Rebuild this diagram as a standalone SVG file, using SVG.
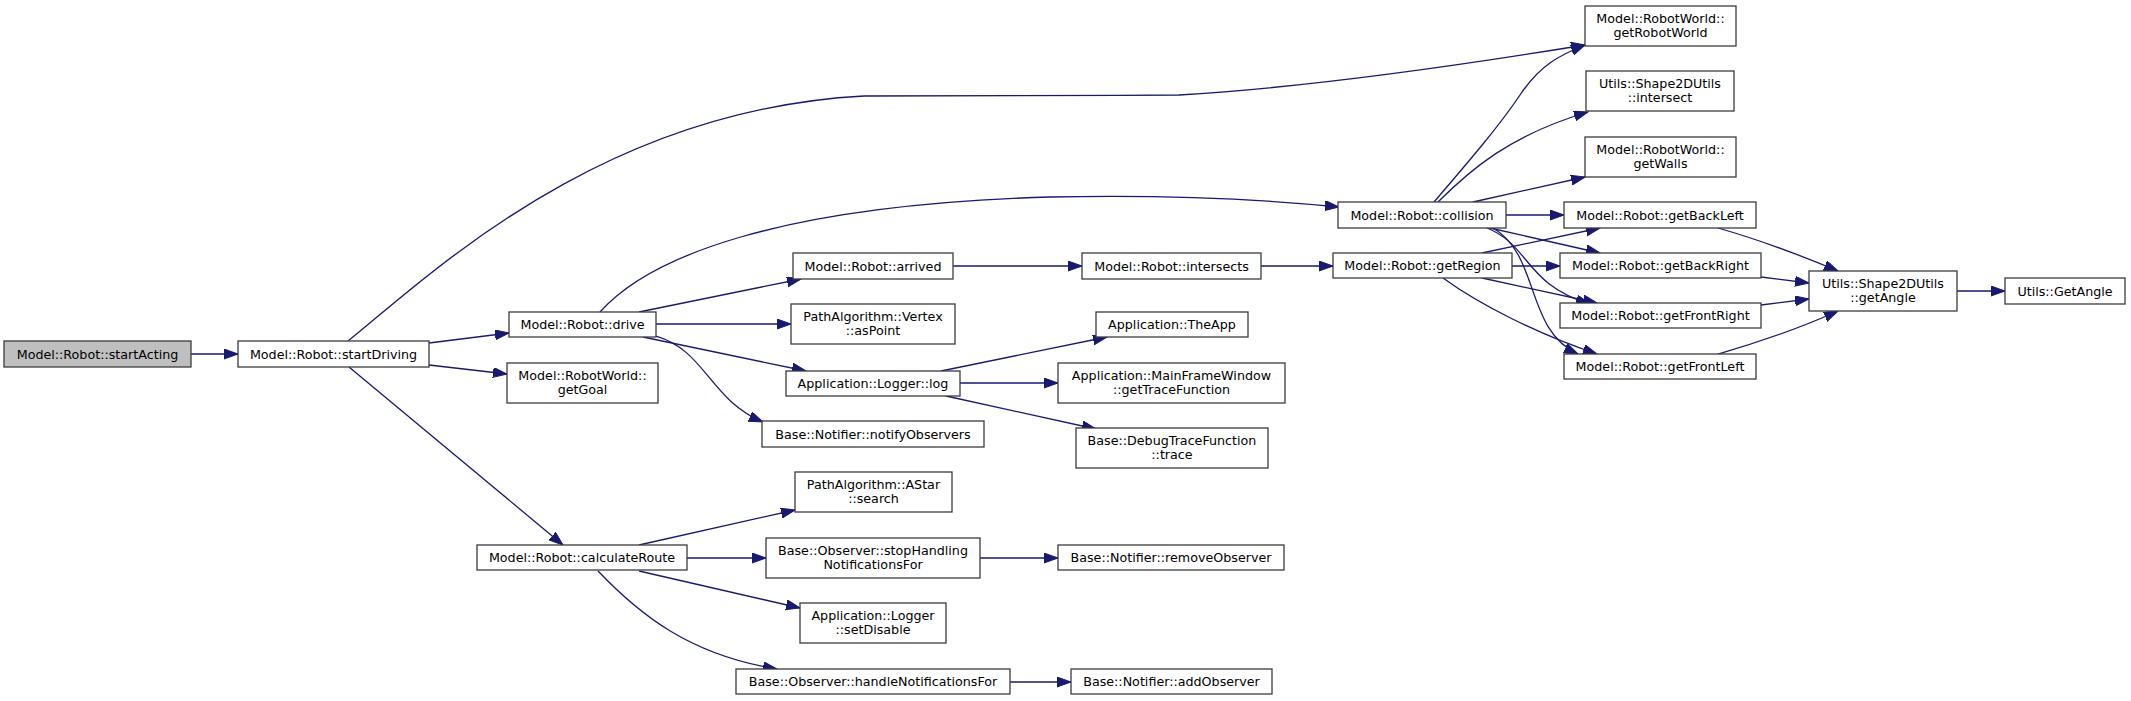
<svg xmlns="http://www.w3.org/2000/svg" width="2131" height="701" viewBox="0 0 2131 701">
<style>
.n rect{fill:#ffffff;stroke:#3c3c3c;stroke-width:1.3}
.n.root rect{fill:#bfbfbf}
.n text{font-family:"DejaVu Sans",sans-serif;font-size:12.7px;fill:#000;text-anchor:middle}
.e path{fill:none;stroke:#191970;stroke-width:1.3;marker-end:url(#a)}
</style>
<defs>
<marker id="a" markerUnits="userSpaceOnUse" markerWidth="15" markerHeight="11" refX="14" refY="5" orient="auto">
<path d="M0,0 L14,5 L0,10 z" fill="#191970" stroke="#191970" stroke-width="1"/>
</marker>
</defs>
<rect width="2131" height="701" fill="#ffffff"/>
<g id="connectors" class="e">
<path d="M191,354 L238,354"/>
<path d="M348,341 C430,275 600,110 864,96 C990,95 1080,96 1179,95 C1300,88 1450,67 1585,45"/>
<path d="M429,343 L509,333"/>
<path d="M429,365 L507,374"/>
<path d="M349,367 L563,545"/>
<path d="M600,312 C650,256 780,205 1050,197 C1150,195 1250,198 1339,207"/>
<path d="M639,312 L801,279"/>
<path d="M656,324 L791,324"/>
<path d="M643,337 L806,371"/>
<path d="M656,336 C705,350 710,400 763,422"/>
<path d="M953,266 L1082,266"/>
<path d="M1261,266 L1333,266"/>
<path d="M941,371 L1107,337"/>
<path d="M960,383 L1058,383"/>
<path d="M946,396 L1096,429"/>
<path d="M639,545 L795,510"/>
<path d="M687,558 L766,558"/>
<path d="M639,571 L800,608"/>
<path d="M598,571 C640,615 690,655 777,669"/>
<path d="M980,558 L1058,558"/>
<path d="M1010,682 L1071,682"/>
<path d="M1434,202 C1470,160 1500,125 1520,95 C1540,65 1560,55 1585,45"/>
<path d="M1438,202 C1470,170 1510,135 1588,112"/>
<path d="M1473,202 L1585,177"/>
<path d="M1506,215 L1564,215"/>
<path d="M1490,228 L1600,253"/>
<path d="M1487,228 C1530,245 1525,285 1590,304"/>
<path d="M1493,228 C1540,255 1525,330 1578,354"/>
<path d="M1482,253 L1600,228"/>
<path d="M1512,266 L1560,266"/>
<path d="M1482,278 L1597,303"/>
<path d="M1443,278 C1480,305 1540,335 1597,354"/>
<path d="M1718,228 C1760,240 1800,255 1838,271"/>
<path d="M1761,277 L1809,283"/>
<path d="M1761,305 L1809,299"/>
<path d="M1718,354 C1760,342 1800,328 1838,311"/>
<path d="M1957,291 L2005,291"/>
</g>
<g id="startActing" class="n root"><rect x="4" y="341" width="187" height="26"/><text x="97.5" y="358.5">Model::Robot::startActing</text></g>
<g id="startDriving" class="n"><rect x="238" y="341" width="191" height="26"/><text x="333.5" y="358.5">Model::Robot::startDriving</text></g>
<g id="drive" class="n"><rect x="509" y="312" width="147" height="25"/><text x="582.5" y="329">Model::Robot::drive</text></g>
<g id="getGoal" class="n"><rect x="507" y="363" width="151" height="40"/><text x="582.5" y="380">Model::RobotWorld::</text><text x="582.5" y="394">getGoal</text></g>
<g id="calculateRoute" class="n"><rect x="477" y="545" width="210" height="25"/><text x="582" y="562">Model::Robot::calculateRoute</text></g>
<g id="arrived" class="n"><rect x="793" y="253" width="160" height="26"/><text x="873" y="270.5">Model::Robot::arrived</text></g>
<g id="asPoint" class="n"><rect x="791" y="304" width="164" height="40"/><text x="873" y="321">PathAlgorithm::Vertex</text><text x="873" y="335">::asPoint</text></g>
<g id="log" class="n"><rect x="786" y="371" width="174" height="25"/><text x="873" y="388">Application::Logger::log</text></g>
<g id="notifyObservers" class="n"><rect x="762" y="421" width="222" height="26"/><text x="873" y="438.5">Base::Notifier::notifyObservers</text></g>
<g id="search" class="n"><rect x="795" y="472" width="157" height="40"/><text x="873.5" y="489">PathAlgorithm::AStar</text><text x="873.5" y="503">::search</text></g>
<g id="stopHandling" class="n"><rect x="766" y="538" width="214" height="40"/><text x="873" y="555">Base::Observer::stopHandling</text><text x="873" y="569">NotificationsFor</text></g>
<g id="setDisable" class="n"><rect x="800" y="603" width="146" height="40"/><text x="873" y="620">Application::Logger</text><text x="873" y="634">::setDisable</text></g>
<g id="handleNotificationsFor" class="n"><rect x="736" y="669" width="274" height="25"/><text x="873" y="686">Base::Observer::handleNotificationsFor</text></g>
<g id="intersects" class="n"><rect x="1082" y="253" width="179" height="26"/><text x="1171.5" y="270.5">Model::Robot::intersects</text></g>
<g id="TheApp" class="n"><rect x="1096" y="312" width="152" height="25"/><text x="1172" y="329">Application::TheApp</text></g>
<g id="getTraceFunction" class="n"><rect x="1058" y="363" width="227" height="40"/><text x="1171.5" y="380">Application::MainFrameWindow</text><text x="1171.5" y="394">::getTraceFunction</text></g>
<g id="trace" class="n"><rect x="1076" y="428" width="192" height="40"/><text x="1172" y="445">Base::DebugTraceFunction</text><text x="1172" y="459">::trace</text></g>
<g id="removeObserver" class="n"><rect x="1058" y="545" width="226" height="25"/><text x="1171" y="562">Base::Notifier::removeObserver</text></g>
<g id="addObserver" class="n"><rect x="1071" y="669" width="201" height="25"/><text x="1171.5" y="686">Base::Notifier::addObserver</text></g>
<g id="collision" class="n"><rect x="1338" y="202" width="168" height="26"/><text x="1422" y="219.5">Model::Robot::collision</text></g>
<g id="getRegion" class="n"><rect x="1333" y="253" width="179" height="25"/><text x="1422.5" y="270">Model::Robot::getRegion</text></g>
<g id="getRobotWorld" class="n"><rect x="1585" y="6" width="151" height="40"/><text x="1660.5" y="23">Model::RobotWorld::</text><text x="1660.5" y="37">getRobotWorld</text></g>
<g id="intersect" class="n"><rect x="1586" y="71" width="148" height="40"/><text x="1660" y="88">Utils::Shape2DUtils</text><text x="1660" y="102">::intersect</text></g>
<g id="getWalls" class="n"><rect x="1585" y="137" width="151" height="40"/><text x="1660.5" y="154">Model::RobotWorld::</text><text x="1660.5" y="168">getWalls</text></g>
<g id="getBackLeft" class="n"><rect x="1564" y="202" width="192" height="26"/><text x="1660" y="219.5">Model::Robot::getBackLeft</text></g>
<g id="getBackRight" class="n"><rect x="1560" y="253" width="201" height="25"/><text x="1660.5" y="270">Model::Robot::getBackRight</text></g>
<g id="getFrontRight" class="n"><rect x="1560" y="303" width="201" height="25"/><text x="1660.5" y="320">Model::Robot::getFrontRight</text></g>
<g id="getFrontLeft" class="n"><rect x="1564" y="354" width="192" height="25"/><text x="1660" y="371">Model::Robot::getFrontLeft</text></g>
<g id="getAngleShape" class="n"><rect x="1809" y="271" width="148" height="40"/><text x="1883" y="288">Utils::Shape2DUtils</text><text x="1883" y="302">::getAngle</text></g>
<g id="GetAngle" class="n"><rect x="2005" y="278" width="120" height="26"/><text x="2065" y="295.5">Utils::GetAngle</text></g>
</svg>
